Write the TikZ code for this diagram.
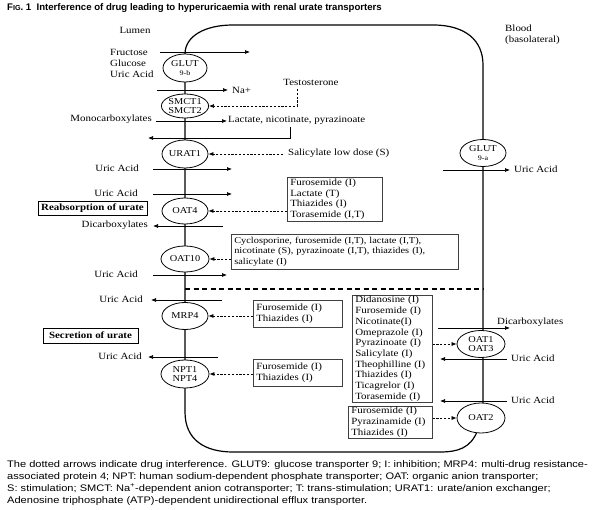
\documentclass[tikz,border=0pt]{standalone}
\usepackage{fontspec}
\setmainfont[FakeStretch=1.15]{Liberation Serif}
\newfontfamily\capfont[FakeStretch=1.165]{Liberation Sans}
\newfontfamily\titlefont{Liberation Sans}
\usetikzlibrary{arrows.meta,shapes.geometric}
\begin{document}
\begin{tikzpicture}[x=1pt,y=-1pt,
  every node/.style={font=\fontsize{9.5}{10.7}\selectfont, inner sep=0pt},
  trans/.style={draw, ellipse, fill=white, line width=0.8pt, align=center,
    minimum width=46pt, minimum height=27pt, inner sep=0pt,
    font=\fontsize{9}{9.5}\selectfont},
  arr/.style={-{Latex[length=5pt,width=4pt]}, line width=0.7pt},
  darr/.style={arr, dash pattern=on 2.2pt off 1.6pt},
  cell/.style={line width=1.2pt},
  drug/.style={draw=black!75, line width=0.6pt, anchor=north west, inner xsep=3pt,
    inner ysep=1pt, align=left},
  hbox/.style={draw, line width=0.7pt, font=\bfseries\fontsize{9.5}{10.7}\selectfont}
]
\useasboundingbox[fill=white] (0,0) rectangle (600,510);

% title
\node[anchor=west, font=\titlefont\bfseries\fontsize{9.6}{11}\selectfont] (title) at (7,8.5)
  {F{\fontsize{7.2}{8}\selectfont IG}. 1\ \ Interference of drug leading to hyperuricaemia with renal urate transporters};

% cell outline
\draw[cell] (185,54) .. controls (185,36) and (205,25) .. (233,25) -- (433,25)
  .. controls (465,25) and (483,40) .. (483,65) -- (483,410);
\draw[cell] (477,432) .. controls (470,448) and (458,452) .. (440,452) -- (233,452)
  .. controls (205,452) and (185,440) .. (185,412) -- (185,54);
\draw[cell, dash pattern=on 5pt off 3.5pt] (185,289) -- (483,289);

% region labels
\node (lumen) at (135,30) {Lumen};
\node[anchor=north west, align=left] (blood) at (505,25) {Blood\\(basolateral)};

% transporters
\node[trans, minimum width=44pt, minimum height=28pt] (glutb) at (185,68) {GLUT\\[-1pt]{\fontsize{7}{7}\selectfont 9-b}};
\node[trans, minimum height=24pt, font=\fontsize{9}{8.5}\selectfont] (smct) at (185,106) {SMCT1\\SMCT2};
\node[trans, minimum height=28pt] (urat) at (185,154) {URAT1};
\node[trans, minimum height=26pt] (oat4) at (185,211) {OAT4};
\node[trans, minimum width=48pt, minimum height=26pt] (oat10) at (185,259) {OAT10};
\node[trans] (mrp4) at (185,316) {MRP4};
\node[trans, minimum width=48pt, minimum height=28pt, font=\fontsize{9}{9.5}\selectfont] (npt) at (185,374) {NPT1\\NPT4};
\node[trans] (gluta) at (483,153) {GLUT\\[-1pt]{\fontsize{7}{7}\selectfont 9-a}};
\node[trans, minimum width=48pt, minimum height=27pt, font=\fontsize{9}{9.5}\selectfont] (oat1) at (481,344) {OAT1\\OAT3};
\node[trans, minimum width=48pt, minimum height=30pt] (oat2) at (481,418) {OAT2};

% GLUT9-b
\node[anchor=west, align=left, font=\fontsize{9.5}{11}\selectfont] (fgu) at (110,63) {Fructose\\Glucose\\Uric Acid};
\coordinate (f1) at (160,52); \coordinate (f2) at (250,52);
\draw[arr] (f1) -- (f2);

% Na+
\coordinate (n1) at (157,90); \coordinate (n2) at (228,90);
\draw[arr] (n1) -- (n2);
\node[anchor=west] (na) at (232,90) {Na+};

% Testosterone
\node (testo) at (311,82) {Testosterone};
\coordinate (t1) at (297,89);
\draw[darr] (t1) |- (smct.east);

% Monocarboxylates
\node[anchor=east] (mono) at (152,119) {Monocarboxylates};
\coordinate (m1) at (156,121); \coordinate (m2) at (227,121);
\draw[arr] (m1) -- (m2);
\node[anchor=west] (lact) at (228,120) {Lactate, nicotinate, pyrazinoate};
\coordinate (l1) at (290,127); \coordinate (l2) at (148,138);
\draw[arr] (l1) |- (l2);

% URAT1
\node[anchor=west] (sal) at (288,153) {Salicylate low dose (S)};
\coordinate (s1) at (283,154);
\draw[darr] (s1) -- (urat.east);
\node[anchor=east] (ua1) at (139,168) {Uric Acid};
\coordinate (u1a) at (153,169); \coordinate (u1b) at (232,169);
\draw[arr] (u1a) -- (u1b);

% OAT4
\node[anchor=east] (ua2) at (138,193) {Uric Acid};
\coordinate (u2a) at (153,194); \coordinate (u2b) at (232,194);
\draw[arr] (u2a) -- (u2b);
\node[hbox, minimum width=109pt, minimum height=14pt] (reab) at (92.5,208) {Reabsorption of urate};
\node[anchor=east] (dic1) at (148,225) {Dicarboxylates};
\coordinate (d1a) at (223,226); \coordinate (d1b) at (153,226);
\draw[arr] (d1a) -- (d1b);
\node[drug, text width=89pt, minimum height=44pt] (box4) at (287,177)
  {Furosemide (I)\\Lactate (T)\\Thiazides (I)\\Torasemide (I,T)};
\draw[darr] (box4.west |- oat4.east) -- (oat4.east);

% OAT10
\node[drug, text width=221pt, minimum height=35pt, font=\fontsize{9}{10.7}\selectfont] (box10) at (231,234)
  {\makebox[\linewidth][s]{Cyclosporine, furosemide (I,T), lactate (I,T),}\\
   \makebox[\linewidth][s]{nicotinate (S), pyrazinoate (I,T), thiazides (I),}\\
   salicylate (I)};
\draw[darr] (box10.west |- oat10.east) -- (oat10.east);
\node[anchor=east] (ua3) at (138,274) {Uric Acid};
\coordinate (u3a) at (153,275); \coordinate (u3b) at (227,275);
\draw[arr] (u3a) -- (u3b);

% MRP4
\node[anchor=east] (ua4) at (143,299) {Uric Acid};
\coordinate (u4a) at (222,300); \coordinate (u4b) at (151,300);
\draw[arr] (u4a) -- (u4b);
\node[drug, text width=83pt, minimum height=27pt] (boxm) at (253,300)
  {Furosemide (I)\\Thiazides (I)};
\draw[darr] (boxm.west |- mrp4.east) -- (mrp4.east);
\node[hbox, minimum width=95pt, minimum height=15pt] (secr) at (90.5,335.5) {Secretion of urate};

% NPT
\node[anchor=east] (ua5) at (142,356) {Uric Acid};
\coordinate (u5a) at (218,357); \coordinate (u5b) at (148,357);
\draw[arr] (u5a) -- (u5b);
\node[drug, text width=83pt, minimum height=27pt] (boxn) at (253,359)
  {Furosemide (I)\\Thiazides (I)};
\draw[darr] (boxn.west |- npt.east) -- (npt.east);

% GLUT9-a
\coordinate (g1) at (443,170); \coordinate (g2) at (510,170);
\draw[arr] (g1) -- (g2);
\node[anchor=west] (ua6) at (514,169) {Uric Acid};

% OAT1/OAT3
\node[drug, text width=74pt, minimum height=107pt] (boxd) at (352,295)
  {Didanosine (I)\\Furosemide (I)\\Nicotinate(I)\\Omeprazole (I)\\Pyrazinoate (I)\\Salicylate (I)\\Theophilline (I)\\Thiazides (I)\\Ticagrelor (I)\\Torasemide (I)};
\draw[darr] (boxd.east |- oat1.west) -- (oat1.west);
\coordinate (d2a) at (438,328); \coordinate (d2b) at (510,328);
\draw[arr] (d2a) -- (d2b);
\node[anchor=base west] (dic2) at (497,325) {Dicarboxylates};
\coordinate (u7a) at (507,359); \coordinate (u7b) at (440,359);
\draw[arr] (u7a) -- (u7b);
\node[anchor=west] (ua7) at (511,358) {Uric Acid};

% OAT2
\coordinate (u8a) at (507,401); \coordinate (u8b) at (440,401);
\draw[arr] (u8a) -- (u8b);
\node[anchor=west] (ua8) at (511,400) {Uric Acid};
\node[drug, text width=78pt, minimum height=32pt] (box2) at (348,406)
  {Furosemide (I)\\Pyrazinamide (I)\\Thiazides (I)};
\draw[darr] (box2.east |- oat2.west) -- (oat2.west);

% caption
\node[anchor=north west, align=left, font=\capfont\fontsize{9.5}{12}\selectfont] (caption) at (7,460)
  {The dotted arrows indicate drug interference. GLUT9: glucose transporter 9; I: inhibition; MRP4: multi-drug resistance-\\
   associated protein 4; NPT: human sodium-dependent phosphate transporter; OAT: organic anion transporter;\\
   S: stimulation; SMCT: Na\textsuperscript{+}-dependent anion cotransporter; T: trans-stimulation; URAT1: urate/anion exchanger;\\
   Adenosine triphosphate (ATP)-dependent unidirectional efflux transporter.};
\end{tikzpicture}
\end{document}
